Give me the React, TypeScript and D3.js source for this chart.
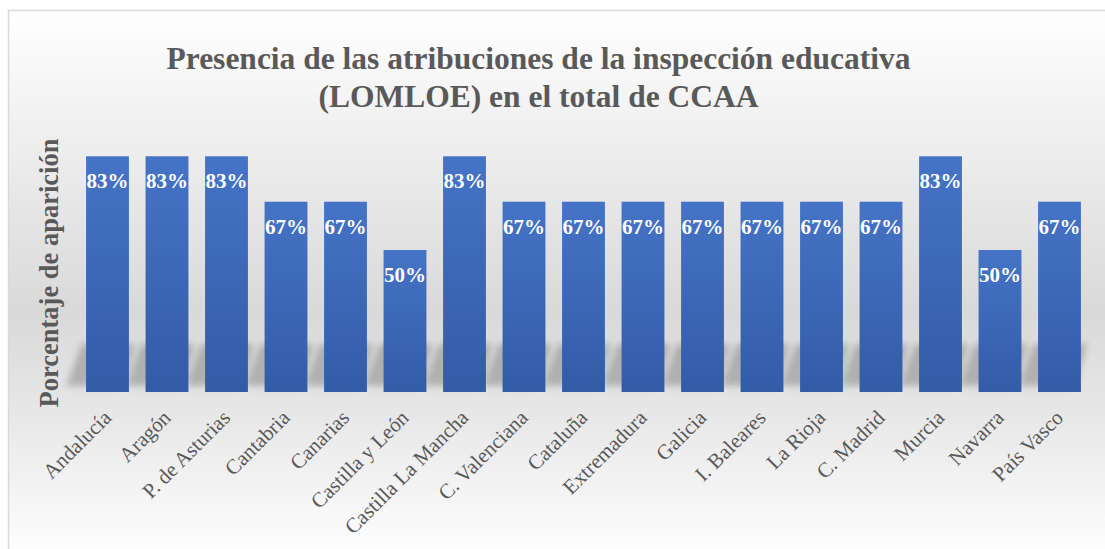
import React from "react";
import * as d3 from "d3";

const categories = [
  "Andalucía", "Aragón", "P. de Asturias", "Cantabria", "Canarias", "Castilla y León",
  "Castilla La Mancha", "C. Valenciana", "Cataluña", "Extremadura", "Galicia",
  "I. Baleares", "La Rioja", "C. Madrid", "Murcia", "Navarra", "País Vasco",
];
const values = [83, 83, 83, 67, 67, 50, 83, 67, 67, 67, 67, 67, 67, 67, 83, 50, 67];
const titleLines = [
  "Presencia de las atribuciones de la inspección educativa",
  "(LOMLOE) en el total de CCAA",
];
const yAxisTitle = "Porcentaje de aparición";

const W = 1105;
const H = 549;
const FONT = "'Liberation Serif', 'Times New Roman', serif";

export default function App() {
  const x = d3.scaleBand<string>().domain(categories).range([77.75, 1089.25]).paddingInner(0.28).paddingOuter(0.14);
  const y = d3.scaleLinear().domain([0, 100]).range([392, 108]);
  const bw = x.bandwidth();
  const base = y(0);

  return (
    <svg width={W} height={H} style={{ position: "absolute", left: 0, top: 0 }}>
      <defs>
        <linearGradient id="bg" gradientUnits="userSpaceOnUse" x1="0" y1="10" x2="0" y2="560">
          <stop offset="0" stopColor="#ffffff" />
          <stop offset="0.2" stopColor="#f1f1f1" />
          <stop offset="0.55" stopColor="#d9d9d9" />
          <stop offset="0.72" stopColor="#e6e6e6" />
          <stop offset="1" stopColor="#ffffff" />
        </linearGradient>
        <linearGradient id="bar" x1="0" y1="0" x2="0" y2="1">
          <stop offset="0" stopColor="#4573c6" />
          <stop offset="1" stopColor="#335ca7" />
        </linearGradient>
        <filter id="blur" x="-50%" y="-50%" width="200%" height="200%">
          <feGaussianBlur stdDeviation="3.5" />
        </filter>
      </defs>
      <rect x={8.5} y={10.5} width={1110} height={560} fill="url(#bg)" stroke="#d9d9d9" strokeWidth={1.5} />
      <g fill="#595959" fontFamily={FONT} fontWeight="bold" fontSize={31.5} textAnchor="middle">
        {titleLines.map((t, i) => (
          <text key={i} x={538.5} y={69 + i * 38}>{t}</text>
        ))}
      </g>
      <text
        transform={`translate(58, 273) rotate(-90)`}
        textAnchor="middle"
        fontFamily={FONT}
        fontWeight="bold"
        fontSize={26.5}
        fill="#595959"
      >
        {yAxisTitle}
      </text>
      <g filter="url(#blur)">
        {categories.map((c) => {
          const x0 = x(c)!;
          const x1 = x0 + bw;
          const top = base - 48;
          const pts = [
            [x0 - 20, base - 6],
            [x1 - 6, base - 6],
            [x1 + 6, top],
            [x0 - 4, top],
          ];
          return <polygon key={c} points={pts.map((p) => p.join(",")).join(" ")} fill="#000" opacity={0.22} />;
        })}
      </g>
      <g>
        {categories.map((c, i) => (
          <rect key={c} x={x(c)} y={y(values[i])} width={bw} height={base - y(values[i])} fill="url(#bar)" />
        ))}
      </g>
      <g fontFamily={FONT} fontWeight="bold" fontSize={21} fill="#ffffff" textAnchor="middle">
        {categories.map((c, i) => (
          <text key={c} x={x(c)! + bw / 2} y={y(values[i]) + 32}>{values[i]}%</text>
        ))}
      </g>
      <g fontFamily={FONT} fontSize={21} fill="#595959" textAnchor="end">
        {categories.map((c) => (
          <text key={c} transform={`translate(${x(c)! + bw / 2 + 5}, ${base + 27}) rotate(-45)`}>{c}</text>
        ))}
      </g>
    </svg>
  );
}
